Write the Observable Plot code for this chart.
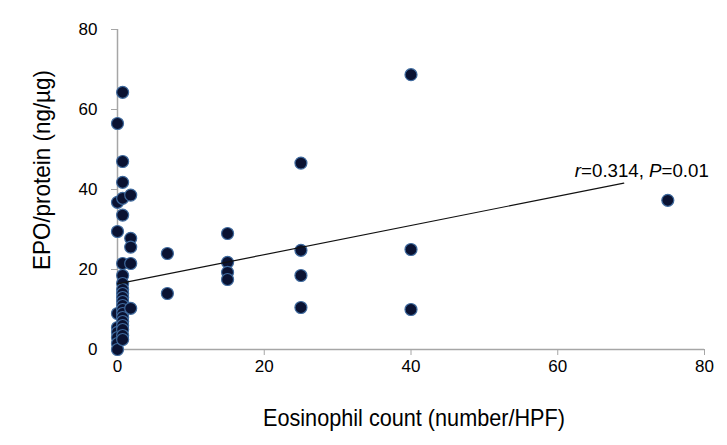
<!DOCTYPE html>
<html>
<head>
<meta charset="utf-8">
<script src="https://cdn.jsdelivr.net/npm/d3@7"></script>
<script src="https://cdn.jsdelivr.net/npm/@observablehq/plot@0.6"></script>
<style>
  html, body { margin: 0; padding: 0; background: #fff; }
  svg { font-family: "Liberation Sans", Arial, sans-serif; }
</style>
</head>
<body>
<div id="chart"></div>
<script>
// Eosinophil count (number/HPF)
const eos = [
  0, 0, 0, 0, 0, 0, 0, 0, 0,
  0.7, 0.7, 0.7, 0.7, 0.7, 0.7, 0.7, 0.7, 0.7, 0.7, 0.7, 0.7, 0.7, 0.7, 0.7, 0.7, 0.7, 0.7, 0.7, 0.7, 0.7,
  1.8, 1.8, 1.8, 1.8, 1.8,
  6.8, 6.8,
  15, 15, 15, 15,
  25, 25, 25, 25,
  40, 40, 40,
  75
];
// EPO/protein (ng/µg)
const epo = [
  56.5, 36.8, 29.5, 9, 5.5, 4.3, 3, 1.5, 0,
  64.3, 47, 41.8, 37.8, 33.6, 21.5, 18.5, 16.5, 15, 14, 13, 12, 11, 10, 9, 8, 7, 6, 5, 3.5, 2.5,
  38.6, 27.8, 25.6, 21.5, 10.3,
  24, 14,
  29, 21.8, 19.3, 17.5,
  46.6, 24.8, 18.5, 10.5,
  68.7, 25, 10,
  37.3
];
const points = eos.map((x, i) => ({x, y: epo[i]}));

// Regression line end points
const trendX = [0, 69];
const trendY = [16.4, 41.6];
const trend = trendX.map((x, i) => ({x, y: trendY[i]}));

const xTicks = [0, 20, 40, 60, 80];
const yTicks = [0, 20, 40, 60, 80];
const xLabel = "Eosinophil count (number/HPF)";
const yLabel = "EPO/protein (ng/µg)";
const annotX = 62.4, annotY = 43.0;
const annotParts = [["r", true], ["=0.314, ", false], ["P", true], ["=0.01", false]];

const axisColor = "#a6a6a6";
const font = "Liberation Sans, Arial, sans-serif";

const plot = Plot.plot({
  width: 727,
  height: 445,
  marginLeft: 117,
  marginRight: 23,
  marginTop: 29,
  marginBottom: 96,
  style: {fontFamily: font, background: "#fff"},
  x: {domain: [0, 80]},
  y: {domain: [0, 80]},
  marks: [
    Plot.axisX({ticks: xTicks, tickSize: 6, tickPadding: 4, stroke: axisColor, fill: "#000", fontSize: 17, label: null}),
    Plot.axisY({ticks: yTicks, tickSize: 6, tickPadding: 14, stroke: axisColor, fill: "#000", fontSize: 17, label: null}),
    Plot.ruleY([0], {stroke: axisColor, strokeWidth: 1.5}),
    Plot.ruleX([0], {stroke: axisColor, strokeWidth: 1.5}),
    Plot.dot(points, {x: "x", y: "y", r: 6, fill: "#0a1232", stroke: "#3f6a9e", strokeWidth: 1.2}),
    Plot.line(trend, {x: "x", y: "y", stroke: "#111", strokeWidth: 1.2})
  ]
});

document.getElementById("chart").appendChild(plot);

const svg = d3.select(plot);
const sx = plot.scale("x"), sy = plot.scale("y");

// Axis titles (slightly condensed, as in the original)
svg.append("text")
  .attr("x", 414).attr("y", 426)
  .attr("text-anchor", "middle")
  .attr("font-size", 24).attr("font-family", font).attr("fill", "#000")
  .attr("textLength", 302).attr("lengthAdjust", "spacingAndGlyphs")
  .text(xLabel);

svg.append("text")
  .attr("transform", "translate(50,170) rotate(-90)")
  .attr("text-anchor", "middle")
  .attr("font-size", 24).attr("font-family", font).attr("fill", "#000")
  .attr("textLength", 200).attr("lengthAdjust", "spacingAndGlyphs")
  .text(yLabel);

// Annotation with italic r and P
const t = svg.append("text")
  .attr("x", sx.apply(annotX))
  .attr("y", sy.apply(annotY))
  .attr("text-anchor", "start")
  .attr("font-size", 18)
  .attr("fill", "#000")
  .attr("font-family", font)
  .attr("textLength", 134).attr("lengthAdjust", "spacingAndGlyphs");
for (const [s, it] of annotParts) {
  t.append("tspan").text(s).attr("font-style", it ? "italic" : "normal");
}
</script>
</body>
</html>
